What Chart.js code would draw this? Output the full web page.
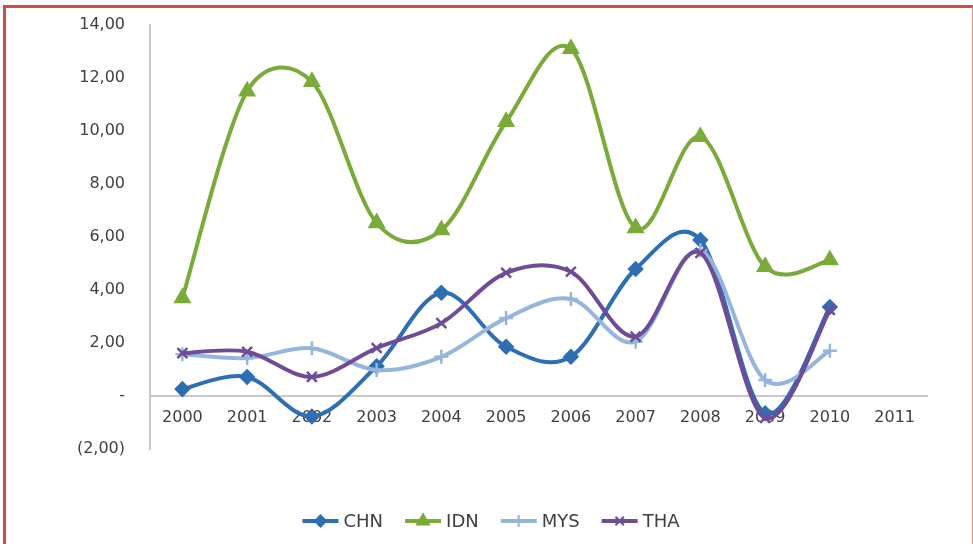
<!DOCTYPE html>
<html>
<head>
<meta charset="utf-8">
<script src="https://cdn.jsdelivr.net/npm/chart.js@4/dist/chart.umd.min.js"></script>
<style>
  html, body { margin: 0; padding: 0; background: #fff; }
  #wrap { position: relative; width: 973px; height: 544px; overflow: hidden; }
  #c { position: absolute; left: 0; top: 0; }
  #frame { position: absolute; left: 3px; top: 5px; width: 966px; height: 600px;
           border-left: 3px solid #d24b47; border-top: 3px solid #d24b47; border-right: 2px solid #e08a88;
           pointer-events: none; }
</style>
</head>
<body>
<div id="wrap">
  <canvas id="c" width="973" height="544"></canvas>
  <div id="frame"></div>
</div>
<script>
const years = ['2000','2001','2002','2003','2004','2005','2006','2007','2008','2009','2010','2011'];
const chn = [0.26, 0.72, -0.77, 1.12, 3.90, 1.86, 1.48, 4.79, 5.89, -0.65, 3.36];
const idn = [3.70, 11.50, 11.86, 6.53, 6.26, 10.35, 13.10, 6.34, 9.78, 4.88, 5.13];
const mys = [1.58, 1.43, 1.80, 0.98, 1.48, 2.94, 3.66, 2.05, 5.50, 0.60, 1.71];
const tha = [1.62, 1.67, 0.72, 1.81, 2.75, 4.65, 4.69, 2.24, 5.40, -0.83, 3.25];
const yTicks = [-2, 0, 2, 4, 6, 8, 10, 12, 14];

const FONT = 'DejaVu Sans';
const series = [
  { label: 'CHN', data: chn, color: '#2f6eb3', style: 'rectRot', r: 6.5, order: 3 },
  { label: 'IDN', data: idn, color: '#7aab3a', style: 'triangle', r: 8, order: 2 },
  { label: 'MYS', data: mys, color: '#95b5dc', style: 'cross', r: 7, order: 1 },
  { label: 'THA', data: tha, color: '#6f4c96', style: 'crossRot', r: 7, order: 0 }
];

function fmt(v) {
  if (v === 0) return '-';
  const s = Math.abs(v).toFixed(2).replace('.', ',');
  return v < 0 ? '(' + s + ')' : s;
}

// Excel-like smoothing: control points = P +/- (Pnext - Pprev)/6, capped at half the segment length
const excelSmooth = {
  id: 'excelSmooth',
  beforeDatasetDraw(chart, args) {
    const line = args.meta.dataset;
    if (!line) return;
    line.updateControlPoints(chart.chartArea, 'x');
    const pts = args.meta.data.filter(p => !p.skip);
    const n = pts.length;
    const dist = (a, b) => Math.hypot(b.x - a.x, b.y - a.y);
    for (let i = 0; i < n; i++) {
      const p = pts[i];
      const prev = pts[Math.max(0, i - 1)];
      const next = pts[Math.min(n - 1, i + 1)];
      const dx = next.x - prev.x, dy = next.y - prev.y;
      const d02 = Math.hypot(dx, dy);
      let fOut = 1 / 6, fIn = 1 / 6;
      if (d02 > 0) {
        const dNext = dist(p, next), dPrev = dist(prev, p);
        if (d02 / 6 > dNext / 2) fOut = dNext / (2 * d02);
        if (d02 / 6 > dPrev / 2) fIn = dPrev / (2 * d02);
      }
      p.cp2x = p.x + fOut * dx; p.cp2y = p.y + fOut * dy;
      p.cp1x = p.x - fIn * dx; p.cp1y = p.y - fIn * dy;
    }
    line._path = undefined;
  }
};

const legendPlugin = {
  id: 'bottomLegend',
  afterDraw(chart) {
    const ctx = chart.ctx;
    ctx.save();
    ctx.font = '18px "' + FONT + '"';
    const lineLen = 36, gapText = 5, gapItem = 22;
    const widths = series.map(s => lineLen + gapText + ctx.measureText(s.label).width);
    const total = widths.reduce((a, b) => a + b, 0) + gapItem * (series.length - 1);
    let x = 491 - total / 2;
    const y = 521;
    series.forEach((s, i) => {
      ctx.strokeStyle = s.color;
      ctx.fillStyle = s.color;
      ctx.lineWidth = 4;
      ctx.beginPath();
      ctx.moveTo(x, y);
      ctx.lineTo(x + lineLen, y);
      ctx.stroke();
      ctx.lineWidth = 2;
      Chart.helpers.drawPoint(ctx, { pointStyle: s.style, radius: s.r * 0.85, borderWidth: 2, rotation: 0 }, x + lineLen / 2, y);
      ctx.fillStyle = '#404040';
      ctx.textAlign = 'left';
      ctx.textBaseline = 'middle';
      ctx.fillText(s.label, x + lineLen + gapText, y + 1);
      x += widths[i] + gapItem;
    });
    ctx.restore();
  }
};

new Chart(document.getElementById('c'), {
  type: 'line',
  data: {
    labels: years,
    datasets: series.map(s => ({
      label: s.label,
      data: s.data,
      borderColor: s.color,
      backgroundColor: s.color,
      borderWidth: 4,
      tension: 0.4,
      pointStyle: s.style,
      pointRadius: s.r,
      pointBorderWidth: 2.5,
      pointBorderColor: s.color,
      pointBackgroundColor: s.color,
      order: s.order
    }))
  },
  options: {
    responsive: false,
    animation: false,
    devicePixelRatio: 1,
    layout: { padding: { left: 0, right: 46, top: 25, bottom: 95 } },
    plugins: { legend: { display: false }, tooltip: { enabled: false } },
    scales: {
      x: {
        type: 'category',
        position: { y: 0 },
        offset: true,
        grid: { display: false, drawTicks: false },
        border: { display: true, color: '#c8c8c8', width: 2 },
        ticks: { color: '#404040', font: { family: FONT, size: 16 }, padding: 12, maxRotation: 0, autoSkip: false }
      },
      y: {
        min: -2, max: 14,
        afterBuildTicks(scale) { scale.ticks = yTicks.map(v => ({ value: v })); },
        afterFit(scale) { scale.width = 150; scale.paddingTop = 10; scale.paddingBottom = 10; },
        grid: { display: false, drawTicks: false },
        border: { display: true, color: '#c8c8c8', width: 2 },
        ticks: { color: '#404040', font: { family: FONT, size: 16 }, padding: 25, callback: v => fmt(v) }
      }
    }
  },
  plugins: [excelSmooth, legendPlugin]
});
</script>
</body>
</html>
